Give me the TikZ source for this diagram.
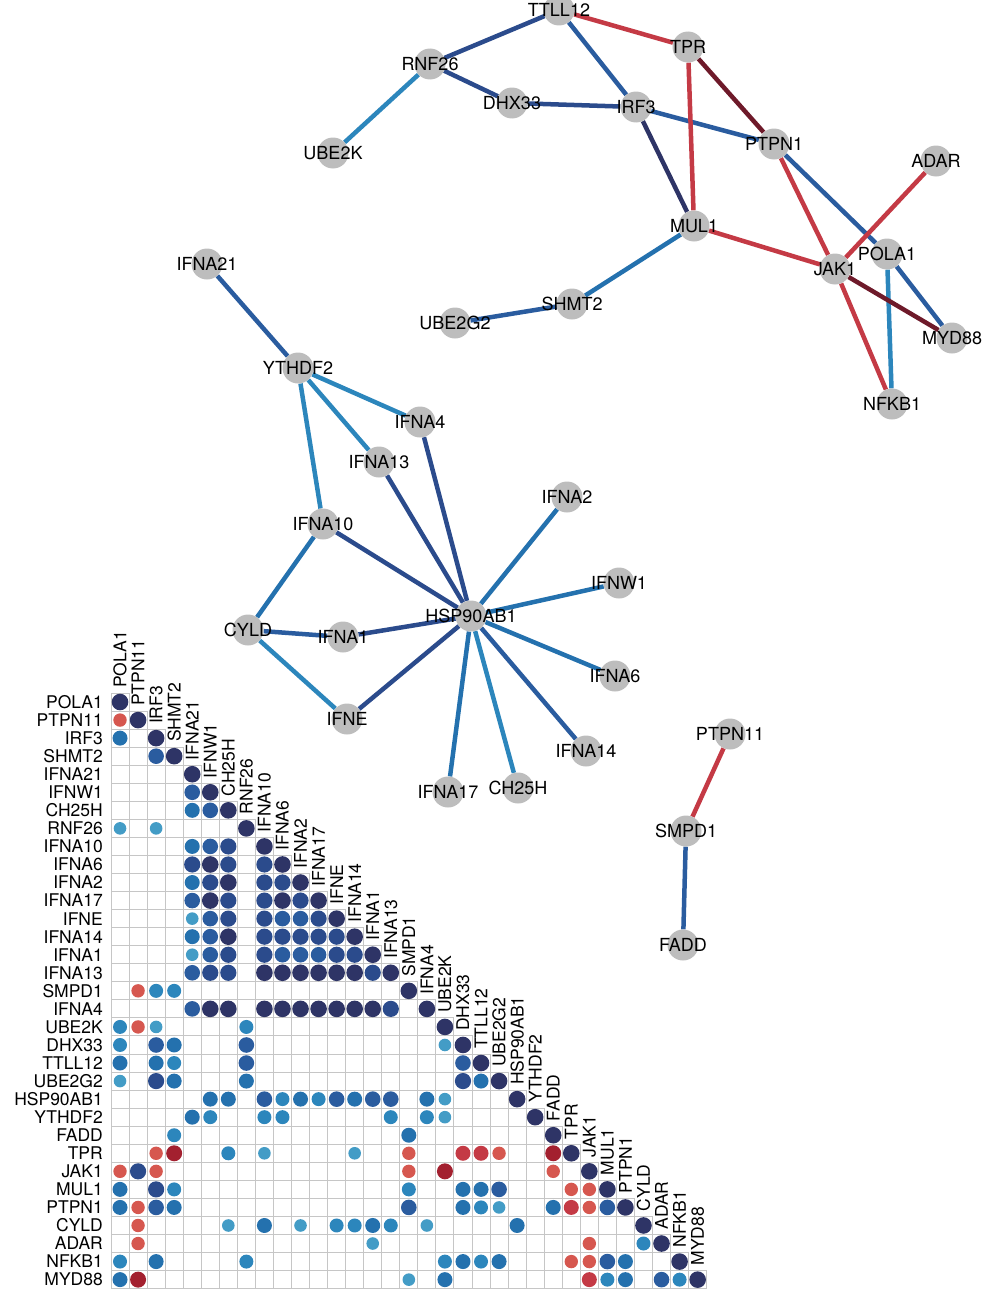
\documentclass[tikz,border=0pt]{standalone}
\usepackage{fontspec}
\setmainfont{TeX Gyre Heros}
\usetikzlibrary{backgrounds}

\definecolor{cnavy}{HTML}{2E3466}
\definecolor{cblueA}{HTML}{2B4B8C}
\definecolor{cblueB}{HTML}{2A5C9F}
\definecolor{cblueC}{HTML}{2471AE}
\definecolor{cblueD}{HTML}{2C86BC}
\definecolor{cblueE}{HTML}{439CC6}
\definecolor{credA}{HTML}{D6574F}
\definecolor{credB}{HTML}{C43A45}
\definecolor{credC}{HTML}{A3202F}
\definecolor{cwine}{HTML}{6E1A2A}
\definecolor{cnode}{HTML}{BDBDBD}
\definecolor{cgrid}{HTML}{C6C6C6}

\tikzset{
  gene/.style={circle, fill=cnode, minimum size=31pt, inner sep=0pt},
  genelab/.style={inner sep=0pt, font=\fontsize{18}{20}\selectfont},
  link/.style={line width=4.5pt},
  eNavy/.style={link, draw=cnavy},
  eDark/.style={link, draw=cblueA},
  eBlue/.style={link, draw=cblueB},
  eMid/.style={link, draw=cblueC},
  eLight/.style={link, draw=cblueD},
  eRed/.style={link, draw=credB},
  eWine/.style={link, draw=cwine},
  cellbox/.style={draw=cgrid, line width=1pt},
  rowlab/.style={anchor=east, inner sep=0pt, font=\fontsize{17.5}{20}\selectfont},
  collab/.style={anchor=west, rotate=90, inner sep=0pt, font=\fontsize{17.5}{20}\selectfont},
  mNavy/.style={fill=cnavy, radius=8.3pt},
  mA/.style={fill=cblueA, radius=8.1pt},
  mB/.style={fill=cblueB, radius=7.8pt},
  mC/.style={fill=cblueC, radius=7.5pt},
  mD/.style={fill=cblueD, radius=7pt},
  mE/.style={fill=cblueE, radius=6.3pt},
  mR/.style={fill=credA, radius=6.7pt},
  mRR/.style={fill=credB, radius=7.5pt},
  mRRR/.style={fill=credC, radius=8pt}
}

\begin{document}
\begin{tikzpicture}[x=1pt,y=-1pt]
\useasboundingbox (0,0) rectangle (988,1290);

% network
\foreach \g/\x/\y in {TTLL12/559/10, TPR/688/47, RNF26/430/64, DHX33/512/103,
  IRF3/636/107, PTPN1/774/144, ADAR/936/161, UBE2K/333/153, MUL1/694/226,
  POLA1/887/254, JAK1/835/269, IFNA21/207/264, SHMT2/572/304, UBE2G2/455/323,
  MYD88/952/338, YTHDF2/298/368, NFKB1/892/404, IFNA4/420/422, IFNA13/379/462,
  IFNA2/567/497, IFNA10/323/524, IFNW1/619/583, HSP90AB1/471/616, CYLD/248/630,
  IFNA1/343/637, IFNA6/615/676, IFNE/347/719, PTPN11/730/734, IFNA14/586/751,
  IFNA17/448/792, CH25H/518/788, SMPD1/686/831, FADD/683/945}
  \node[gene, label={[genelab]center:\g}] (\g) at (\x,\y) {};

\begin{scope}[on background layer]
\draw[eNavy] (IRF3) -- (MUL1);
\foreach \a/\b in {TTLL12/RNF26, RNF26/DHX33, DHX33/IRF3, IFNA4/HSP90AB1,
  IFNA13/HSP90AB1, IFNA10/HSP90AB1, IFNE/HSP90AB1, IFNA1/HSP90AB1}
  \draw[eDark] (\a) -- (\b);
\foreach \a/\b in {TTLL12/IRF3, IRF3/PTPN1, PTPN1/POLA1, POLA1/MYD88,
  IFNA21/YTHDF2, IFNA14/HSP90AB1, SHMT2/UBE2G2, SMPD1/FADD, CYLD/IFNA1}
  \draw[eBlue] (\a) -- (\b);
\foreach \a/\b in {IFNA2/HSP90AB1, IFNW1/HSP90AB1, IFNA6/HSP90AB1,
  IFNA17/HSP90AB1, IFNA10/CYLD, MUL1/SHMT2}
  \draw[eMid] (\a) -- (\b);
\foreach \a/\b in {RNF26/UBE2K, YTHDF2/IFNA4, YTHDF2/IFNA13, YTHDF2/IFNA10,
  CYLD/IFNE, CH25H/HSP90AB1, POLA1/NFKB1}
  \draw[eLight] (\a) -- (\b);
\foreach \a/\b in {TTLL12/TPR, TPR/MUL1, MUL1/JAK1, PTPN1/JAK1, JAK1/ADAR,
  JAK1/NFKB1, PTPN11/SMPD1}
  \draw[eRed] (\a) -- (\b);
\foreach \a/\b in {TPR/PTPN1, JAK1/MYD88}
  \draw[eWine] (\a) -- (\b);
\end{scope}

% correlation matrix
\def\s{18.05}
\def\xo{111}
\def\yo{693}
\foreach \g [count=\i] in {POLA1,PTPN11,IRF3,SHMT2,IFNA21,IFNW1,CH25H,RNF26,
  IFNA10,IFNA6,IFNA2,IFNA17,IFNE,IFNA14,IFNA1,IFNA13,SMPD1,IFNA4,UBE2K,DHX33,
  TTLL12,UBE2G2,HSP90AB1,YTHDF2,FADD,TPR,JAK1,MUL1,PTPN1,CYLD,ADAR,NFKB1,MYD88}{
  \node[rowlab] (r\i) at ({\xo-8},{\yo+(\i-0.5)*\s}) {\g};
  \node[collab] (c\i) at ({\xo+(\i-0.5)*\s},{\yo+(\i-1)*\s-5}) {\g};
}
\foreach \r in {1,...,33}
  \foreach \c in {1,...,\r}
    \draw[cellbox] ({\xo+(\c-1)*\s},{\yo+(\r-1)*\s}) rectangle ++(\s,\s);

\foreach \r/\c/\k in {1/1/mNavy, 2/1/mR, 2/2/mNavy, 3/1/mC, 3/3/mNavy,
  4/3/mB, 4/4/mNavy, 5/5/mNavy, 6/5/mB, 6/6/mNavy, 7/5/mC, 7/6/mB, 7/7/mNavy,
  8/1/mE, 8/3/mE, 8/8/mNavy,
  9/5/mC, 9/6/mB, 9/7/mA, 9/9/mNavy,
  10/5/mA, 10/6/mNavy, 10/7/mA, 10/9/mA, 10/10/mNavy,
  11/5/mC, 11/6/mA, 11/7/mNavy, 11/9/mA, 11/10/mA, 11/11/mNavy,
  12/5/mB, 12/6/mNavy, 12/7/mA, 12/9/mA, 12/10/mNavy, 12/11/mA, 12/12/mNavy,
  13/5/mE, 13/6/mB, 13/7/mA, 13/9/mA, 13/10/mB, 13/11/mB, 13/12/mA, 13/13/mNavy,
  14/5/mC, 14/6/mB, 14/7/mNavy, 14/9/mA, 14/10/mA, 14/11/mA, 14/12/mA, 14/13/mA, 14/14/mNavy,
  15/5/mE, 15/6/mB, 15/7/mA, 15/9/mA, 15/10/mB, 15/11/mB, 15/12/mB, 15/13/mA, 15/14/mA, 15/15/mNavy,
  16/5/mB, 16/6/mA, 16/7/mA, 16/9/mNavy, 16/10/mNavy, 16/11/mNavy, 16/12/mNavy,
  16/13/mNavy, 16/14/mNavy, 16/15/mA, 16/16/mNavy,
  17/2/mR, 17/3/mD, 17/4/mD, 17/17/mNavy,
  18/5/mB, 18/6/mNavy, 18/7/mNavy, 18/9/mNavy, 18/10/mNavy, 18/11/mNavy, 18/12/mNavy,
  18/13/mNavy, 18/14/mNavy, 18/15/mNavy, 18/16/mA, 18/18/mNavy,
  19/1/mD, 19/2/mR, 19/3/mE, 19/8/mD, 19/19/mNavy,
  20/1/mD, 20/3/mB, 20/4/mC, 20/8/mB, 20/19/mE, 20/20/mNavy,
  21/1/mC, 21/3/mC, 21/4/mD, 21/8/mB, 21/20/mB, 21/21/mNavy,
  22/1/mE, 22/3/mA, 22/4/mC, 22/8/mC, 22/20/mA, 22/21/mC, 22/22/mNavy,
  23/6/mC, 23/7/mC, 23/9/mB, 23/10/mD, 23/11/mC, 23/12/mD, 23/13/mB, 23/14/mC,
  23/15/mB, 23/16/mB, 23/18/mC, 23/19/mE, 23/23/mNavy,
  24/5/mC, 24/6/mD, 24/9/mD, 24/10/mD, 24/16/mD, 24/18/mD, 24/19/mE, 24/24/mNavy,
  25/4/mD, 25/17/mC, 25/25/mNavy,
  26/3/mR, 26/4/mRRR, 26/7/mD, 26/9/mE, 26/14/mE, 26/17/mR, 26/20/mRR, 26/21/mRR,
  26/22/mR, 26/25/mRRR, 26/26/mNavy,
  27/1/mR, 27/2/mA, 27/3/mR, 27/17/mR, 27/19/mRRR, 27/25/mR, 27/27/mNavy,
  28/1/mC, 28/3/mA, 28/4/mD, 28/17/mD, 28/20/mC, 28/21/mC, 28/22/mB, 28/26/mR,
  28/27/mR, 28/28/mNavy,
  29/1/mC, 29/2/mR, 29/3/mB, 29/4/mC, 29/17/mB, 29/20/mC, 29/21/mD, 29/22/mE,
  29/25/mC, 29/26/mRR, 29/27/mR, 29/28/mB, 29/29/mNavy,
  30/2/mR, 30/7/mE, 30/9/mC, 30/11/mE, 30/13/mD, 30/14/mD, 30/15/mC, 30/16/mD,
  30/18/mE, 30/23/mC, 30/30/mNavy,
  31/2/mR, 31/15/mE, 31/27/mR, 31/30/mD, 31/31/mNavy,
  32/1/mD, 32/3/mC, 32/8/mD, 32/19/mD, 32/20/mC, 32/21/mD, 32/22/mC, 32/26/mR,
  32/27/mR, 32/28/mB, 32/29/mC, 32/32/mNavy,
  33/1/mC, 33/2/mRRR, 33/17/mE, 33/19/mC, 33/27/mRR, 33/28/mD, 33/29/mC,
  33/31/mB, 33/32/mD, 33/33/mNavy}
  \fill[\k] ({\xo+(\c-0.5)*\s},{\yo+(\r-0.5)*\s}) circle;
\end{tikzpicture}
\end{document}
